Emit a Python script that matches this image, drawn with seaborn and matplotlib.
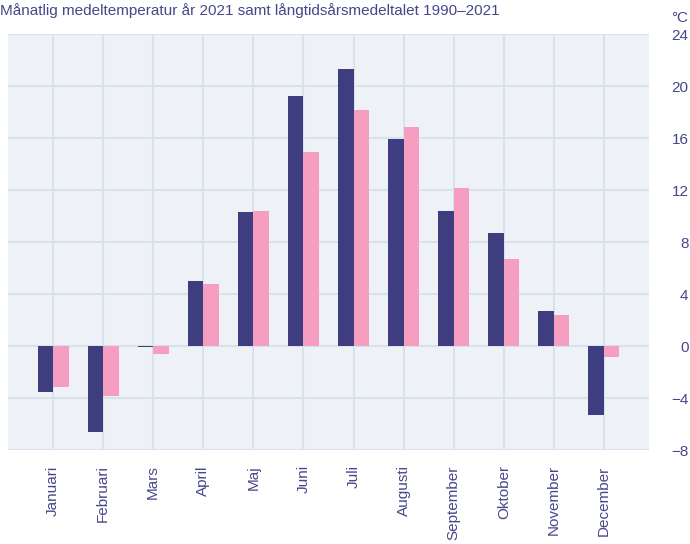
import matplotlib
matplotlib.use('Agg')
import matplotlib.pyplot as plt
import pandas as pd
import seaborn as sns

# Data
months = ['Januari', 'Februari', 'Mars', 'April', 'Maj', 'Juni', 'Juli',
          'Augusti', 'September', 'Oktober', 'November', 'December']
temp_2021 = [-3.5, -6.6, -0.05, 5.0, 10.3, 19.2, 21.3, 15.9, 10.4, 8.7, 2.7, -5.3]
temp_avg = [-3.15, -3.85, -0.6, 4.75, 10.4, 14.9, 18.15, 16.85, 12.15, 6.7, 2.4, -0.85]
series_names = ['2021', '1990–2021']
yticks = [-8, -4, 0, 4, 8, 12, 16, 20, 24]

text_color = '#46468a'
dark = '#3d3d80'
pink = '#f59ebf'

df = pd.DataFrame({
    'month': months * 2,
    'temp': temp_2021 + temp_avg,
    'series': [series_names[0]] * len(months) + [series_names[1]] * len(months),
})

sns.set_style('white')
plt.rcParams['font.family'] = ['Liberation Sans', 'DejaVu Sans']

fig = plt.figure(figsize=(6.9, 5.44), dpi=100)
ax = fig.add_axes([8 / 690, 1 - 450 / 544, 641 / 690, 416 / 544])
ax.set_facecolor('#eef2f7')

sns.barplot(data=df, x='month', y='temp', hue='series', order=months,
            hue_order=series_names, palette=[dark, pink], width=0.62,
            gap=0, saturation=1, linewidth=0, ax=ax, legend=False, zorder=3)

ax.set_xlim(-0.9, 11.9)
ax.set_ylim(-8, 24)
ax.set_yticks(yticks)
ax.set_yticklabels([str(t).replace('-', '−') for t in yticks])
ax.yaxis.tick_right()
ax.grid(True, color='#d8e2ef', linewidth=1.5, zorder=0)
ax.set_axisbelow(True)
for s in ax.spines.values():
    s.set_visible(False)

# right-aligned y labels ending near the figure edge
ax.tick_params(axis='y', length=0, pad=28.5, labelsize=11, labelcolor=text_color)
for lab in ax.get_yticklabels():
    lab.set_horizontalalignment('right')
ax.tick_params(axis='x', length=0, pad=11, labelsize=11, labelcolor=text_color,
               labelrotation=90)
ax.set_xlabel('')
ax.set_ylabel('')

fig.text(0.0, 1 - 11 / 544, 'Månatlig medeltemperatur år 2021 samt långtidsårsmedeltalet 1990–2021',
         fontsize=11, color=text_color, va='center', ha='left')
fig.text(688 / 690, 1 - 18 / 544, '°C', fontsize=11, color=text_color, va='center', ha='right')

fig.savefig('out.png', dpi=100)
